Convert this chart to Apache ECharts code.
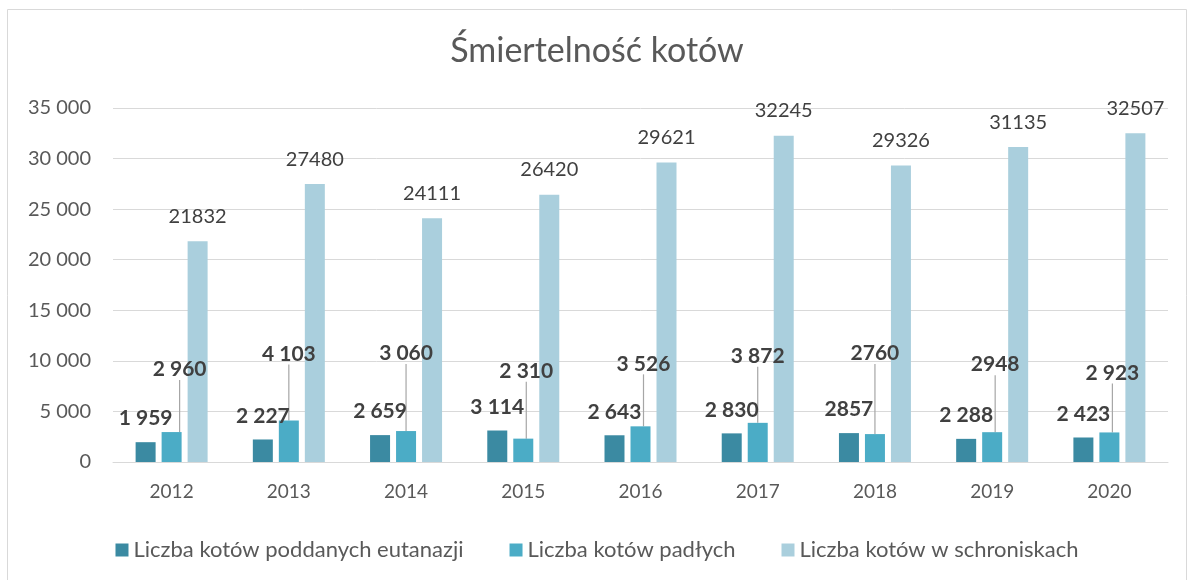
<!DOCTYPE html>
<html>
<head>
<meta charset="utf-8">
<script src="https://cdn.jsdelivr.net/npm/echarts@6/dist/echarts.min.js"></script>
<style>
html, body { margin: 0; padding: 0; background: #fff; }
#main { width: 1194px; height: 580px; }
</style>
</head>
<body>
<div id="main"></div>
<script>
var years = ['2012', '2013', '2014', '2015', '2016', '2017', '2018', '2019', '2020'];
var eutanazja = [1959, 2227, 2659, 3114, 2643, 2830, 2857, 2288, 2423];
var padle = [2960, 4103, 3060, 2310, 3526, 3872, 2760, 2948, 2923];
var schroniska = [21832, 27480, 24111, 26420, 29621, 32245, 29326, 31135, 32507];
var names = ['Liczba kotów poddanych eutanazji', 'Liczba kotów padłych', 'Liczba kotów w schroniskach'];

// a few labels have no thousands space in the source
var plain1 = [6];
var plain2 = [6, 7];
// dragged labels of the "padłych" series (dx, dy)
var shift2 = [[8, -47], [0, -51], [0, -62], [3, -52], [3, -47], [0, -51], [0, -65], [3, -52], [3, -44]];

function spaced(v) {
    return String(v).replace(/\B(?=(\d{3})+(?!\d))/g, ' ');
}

var font = 'Lato, "Open Sans", sans-serif';
var grey = '#595959';

var chart = echarts.init(document.getElementById('main'));
chart.setOption({
    animation: false,
    textStyle: {fontFamily: font},
    title: {
        text: 'Śmiertelność kotów',
        left: 'center',
        top: 29,
        textStyle: {fontFamily: font, fontSize: 34, fontWeight: 'normal', color: grey}
    },
    graphic: [{
        type: 'rect',
        shape: {x: 7.5, y: 9.5, width: 1179, height: 600},
        style: {fill: 'none', stroke: '#d9d9d9', lineWidth: 1},
        silent: true
    }],
    grid: {left: 113, right: 26, top: 108, bottom: 118, outerBoundsMode: 'none'},
    legend: {
        top: 534,
        left: 'center',
        icon: 'rect',
        itemWidth: 13,
        itemHeight: 13,
        itemGap: 46,
        textStyle: {fontFamily: font, fontSize: 22, color: grey},
        data: names
    },
    xAxis: {
        type: 'category',
        data: years,
        axisTick: {show: false},
        axisLine: {lineStyle: {color: '#d9d9d9', width: 1}},
        axisLabel: {fontFamily: font, fontSize: 19, color: grey, margin: 20}
    },
    yAxis: {
        type: 'value',
        min: 0,
        max: 35000,
        interval: 5000,
        axisLine: {show: false},
        axisTick: {show: false},
        splitLine: {lineStyle: {color: '#d9d9d9', width: 1}},
        axisLabel: {
            fontFamily: font, fontSize: 20, color: grey, margin: 22,
            formatter: function (v) { return spaced(v); }
        }
    },
    series: [
        {
            name: names[0],
            type: 'bar',
            data: eutanazja,
            barWidth: 20,
            barGap: '30%',
            itemStyle: {color: '#3b8aa2'},
            label: {
                show: true, position: 'top', distance: 13,
                fontFamily: font, fontSize: 21, fontWeight: 'bold', color: '#404040',
                formatter: function (p) {
                    return plain1.indexOf(p.dataIndex) >= 0 ? String(p.value) : spaced(p.value);
                }
            }
        },
        {
            name: names[1],
            type: 'bar',
            data: padle,
            barWidth: 20,
            barGap: '30%',
            itemStyle: {color: '#4bacc6'},
            label: {
                show: true, position: 'top', distance: 5,
                fontFamily: font, fontSize: 21, fontWeight: 'bold', color: '#404040',
                formatter: function (p) {
                    return plain2.indexOf(p.dataIndex) >= 0 ? String(p.value) : spaced(p.value);
                }
            },
            labelLine: {show: true, lineStyle: {color: '#a6a6a6', width: 1.2}},
            labelLayout: function (p) {
                var s = shift2[p.dataIndex];
                return {dx: s[0], dy: s[1]};
            }
        },
        {
            name: names[2],
            type: 'bar',
            data: schroniska,
            barWidth: 20,
            barGap: '30%',
            itemStyle: {color: '#aacfdd'},
            label: {
                show: true, position: 'top', distance: 15,
                fontFamily: font, fontSize: 20, color: '#404040'
            }
        }
    ]
});
</script>
</body>
</html>
